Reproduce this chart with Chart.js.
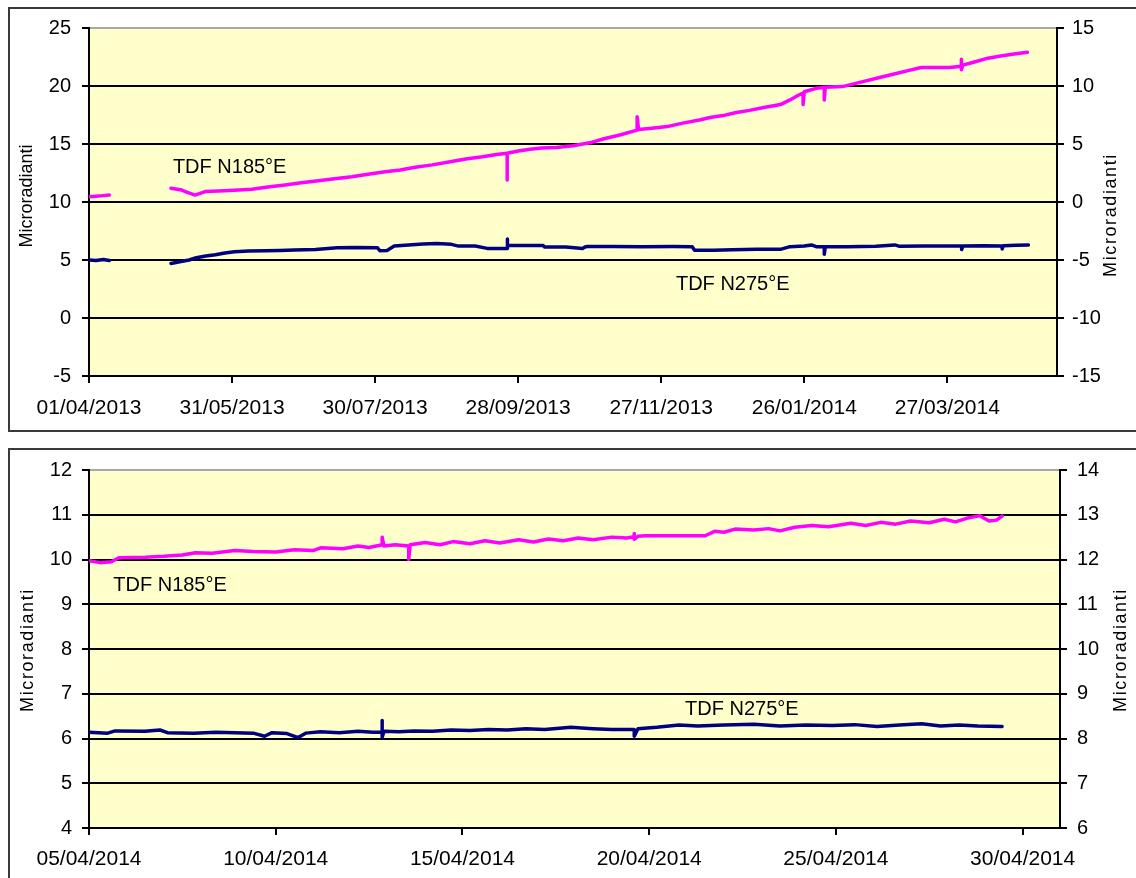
<!DOCTYPE html>
<html>
<head>
<meta charset="utf-8">
<title>TDF N185°E / N275°E</title>
<script src="https://cdn.jsdelivr.net/npm/chart.js@4.4.1/dist/chart.umd.min.js"></script>
<style>
  html, body { margin: 0; padding: 0; background: #fff; }
  body { position: relative; width: 1136px; height: 878px; overflow: hidden; }
  .frame { position: absolute; left: 8px; width: 1150px; border: 2px solid #3a3a3a; box-sizing: border-box; }
  canvas { position: absolute; left: 0; }
</style>
</head>
<body>
<div class="frame" style="top:7px;height:425px"></div>
<div class="frame" style="top:448px;height:470px"></div>
<canvas id="chartTop" width="1136" height="432" style="top:0"></canvas>
<canvas id="chartBottom" width="1136" height="446" style="top:432px"></canvas>
<script>
// =======================================
// Data – days counted from the first tick
// =======================================

// top chart: 01/04/2013 -> May 2014
const topTickDays = [0, 60, 120, 180, 240, 300, 360];
const topTickLabels = ["01/04/2013", "31/05/2013", "30/07/2013", "28/09/2013", "27/11/2013", "26/01/2014", "27/03/2014"];

const topPinkDays = [0, 3, 6, 8.5, 20, 34.4, 38.9, 41, 44.5, 48.7, 57, 68.3, 75, 82.2, 89, 96.2, 103, 110.2, 117, 124.2,
  130.5, 136.8, 144, 151.5, 158, 165, 171, 175.4, 175.4, 175.4, 180, 185, 190, 196, 203, 210, 216, 223, 229.9, 229.9,
  230.5, 236, 242.5, 249, 256, 261, 266, 271, 277, 283, 290, 294, 297.5, 299.5, 299.5, 300, 305, 308.4, 308.4, 308.8,
  316, 325, 332, 339, 344, 349, 355, 361, 365.9, 365.9, 365.9, 366.5, 371, 377, 383, 388, 393.6];
const topPinkVals = [10.45, 10.5, 10.55, 10.6, null, 11.18, 11.03, 10.85, 10.6, 10.9, 10.98, 11.1, 11.3, 11.47, 11.65, 11.84, 12.0, 12.18, 12.4, 12.6,
  12.76, 12.99, 13.2, 13.47, 13.7, 13.9, 14.1, 14.2, 11.9, 14.2, 14.4, 14.54, 14.65, 14.7, 14.85, 15.1, 15.45, 15.8, 16.2, 17.35,
  16.25, 16.35, 16.5, 16.8, 17.07, 17.3, 17.45, 17.7, 17.9, 18.15, 18.4, 18.8, 19.2, 19.4, 18.4, 19.5, 19.8, 19.9, 18.8, 19.9,
  19.95, 20.4, 20.75, 21.1, 21.35, 21.6, 21.6, 21.6, 21.7, 22.3, 21.4, 21.8, 22.05, 22.4, 22.6, 22.75, 22.9];

const topBlueDays = [0, 3, 6, 8.5, 20, 34.4, 38, 42, 45, 49, 53, 57, 61, 67, 74, 80, 86, 95, 104, 112,
  121, 122, 125, 128, 134, 140, 146, 152, 155, 162, 167, 175.4, 175.4, 175.6, 183, 190.5, 191, 200, 207, 208,
  209, 220, 232, 245, 253, 254, 262, 270, 280, 290, 294, 300, 303, 305, 308.4, 308.4, 308.8, 318, 330, 338,
  340, 350, 360, 366, 366, 366.5, 375, 383, 383, 383.5, 389, 394];
const topBlueVals = [5.0, 4.95, 5.05, 4.95, null, 4.7, 4.85, 5.0, 5.2, 5.35, 5.45, 5.6, 5.72, 5.78, 5.8, 5.82, 5.86, 5.9, 6.06, 6.08,
  6.05, 5.8, 5.82, 6.2, 6.3, 6.38, 6.42, 6.35, 6.2, 6.2, 6.0, 6.0, 6.8, 6.26, 6.26, 6.25, 6.12, 6.12, 6.0, 6.12,
  6.17, 6.17, 6.15, 6.17, 6.15, 5.85, 5.85, 5.88, 5.92, 5.92, 6.15, 6.2, 6.3, 6.15, 6.15, 5.5, 6.15, 6.15, 6.18, 6.3,
  6.18, 6.2, 6.2, 6.2, 5.9, 6.2, 6.22, 6.2, 5.95, 6.22, 6.28, 6.3];

// bottom chart: 05/04/2014 -> 01/05/2014
const botTickDays = [0, 5, 10, 15, 20, 25];
const botTickLabels = ["05/04/2014", "10/04/2014", "15/04/2014", "20/04/2014", "25/04/2014", "30/04/2014"];

const botPinkDays = [0, 0.3, 0.6, 0.8, 1.5, 2.0, 2.5, 2.85, 3.3, 3.9, 4.4, 5.0, 5.5, 6.0, 6.2, 6.8, 7.2, 7.5, 7.85, 7.85,
  7.9, 8.2, 8.56, 8.56, 8.6, 9.0, 9.4, 9.75, 10.2, 10.6, 11.0, 11.5, 11.9, 12.3, 12.7, 13.1, 13.5, 14.0, 14.4, 14.6,
  14.6, 14.6, 14.7, 14.9, 16.5, 16.75, 17.0, 17.3, 17.8, 18.2, 18.5, 18.9, 19.35, 19.8, 20.4, 20.8, 21.2, 21.6, 22.0, 22.5,
  22.9, 23.2, 23.5, 23.85, 24.1, 24.3, 24.45];
const botPinkVals = [9.97, 9.93, 9.95, 10.04, 10.05, 10.07, 10.1, 10.15, 10.14, 10.2, 10.18, 10.17, 10.22, 10.2, 10.26, 10.24, 10.3, 10.27, 10.33, 10.5,
  10.3, 10.33, 10.3, 10.0, 10.33, 10.38, 10.33, 10.4, 10.35, 10.42, 10.37, 10.44, 10.39, 10.46, 10.42, 10.48, 10.44, 10.5, 10.48, 10.51,
  10.58, 10.45, 10.52, 10.53, 10.53, 10.63, 10.61, 10.68, 10.66, 10.69, 10.64, 10.72, 10.76, 10.73, 10.81, 10.76, 10.83, 10.79, 10.86, 10.82,
  10.9, 10.84, 10.92, 10.98, 10.86, 10.88, 10.97];

const botBlueDays = [0, 0.5, 0.7, 1.5, 1.9, 2.1, 2.8, 3.4, 3.9, 4.4, 4.7, 4.9, 5.3, 5.6, 5.8, 6.2, 6.7, 7.2, 7.6, 7.85,
  7.85, 7.85, 7.9, 8.3, 8.7, 9.2, 9.7, 10.2, 10.7, 11.2, 11.7, 12.2, 12.9, 13.5, 14.0, 14.6, 14.6, 14.7, 15.2, 15.8,
  16.3, 17.0, 17.8, 18.5, 19.2, 19.9, 20.5, 21.1, 21.7, 22.3, 22.8, 23.3, 23.8, 24.45];
const botBlueVals = [6.14, 6.12, 6.17, 6.16, 6.19, 6.13, 6.12, 6.14, 6.13, 6.12, 6.05, 6.13, 6.11, 6.02, 6.12, 6.15, 6.13, 6.16, 6.14, 6.14,
  6.4, 6.03, 6.16, 6.15, 6.17, 6.16, 6.19, 6.18, 6.2, 6.19, 6.22, 6.2, 6.25, 6.22, 6.2, 6.2, 6.05, 6.22, 6.25, 6.3,
  6.28, 6.3, 6.32, 6.28, 6.3, 6.29, 6.31, 6.27, 6.3, 6.33, 6.28, 6.3, 6.28, 6.27];

const PINK = "#ff00ff";
const NAVY = "#000080";

Chart.defaults.font.family = "'Liberation Sans', Arial, sans-serif";
Chart.defaults.color = "#000";

// ===========================
// Helpers
// ===========================
function serie(days, vals, color) {
  return {
    data: days.map((d, i) => ({ x: d, y: vals[i] })),
    borderColor: color,
    borderWidth: 3.5,
    borderJoinStyle: "round",
    borderCapStyle: "round",
    pointRadius: 0,
    tension: 0,
    spanGaps: false,
    yAxisID: "y"
  };
}

function asseX(max, tickDays, tickLabels, height, pad) {
  return {
    type: "linear",
    min: 0,
    max: max,
    afterBuildTicks: s => { s.ticks = tickDays.map(v => ({ value: v })); },
    afterFit: s => { s.height = height; },
    grid: { drawOnChartArea: false, color: "#000", lineWidth: 2, tickLength: 7 },
    border: { color: "#000", width: 2 },
    ticks: {
      autoSkip: false, maxRotation: 0, padding: pad,
      font: { size: 21 },
      callback: (v, i) => tickLabels[i]
    }
  };
}

function asseY(pos, min, max, step, width, pad) {
  return {
    position: pos,
    min: min,
    max: max,
    afterFit: s => { s.width = width; },
    ticks: { stepSize: step, padding: pad, font: { size: 20 } },
    grid: {
      drawOnChartArea: pos === "left",
      tickLength: 7,
      lineWidth: 2,
      tickColor: "#000",
      color: c => (c.tick && c.tick.value === max) ? "#a8a8a8" : "#000"
    },
    border: { color: "#000", width: 2 }
  };
}

// sfondo giallo + titoli assi + etichette serie
const decorazioni = {
  id: "decorazioni",
  beforeDraw(chart) {
    const { ctx, chartArea: a } = chart;
    ctx.save();
    ctx.fillStyle = "#ffffcc";
    ctx.fillRect(a.left, a.top, a.right - a.left, a.bottom - a.top);
    ctx.restore();
  },
  afterDraw(chart, args, opts) {
    const { ctx, scales } = chart;
    ctx.save();
    ctx.fillStyle = "#000";
    ctx.textAlign = "center";
    ctx.textBaseline = "middle";
    opts.titoli.forEach(t => {
      ctx.save();
      ctx.font = "18px 'Liberation Sans', Arial, sans-serif";
      ctx.letterSpacing = t.spazio + "px";
      ctx.translate(t.x, t.y);
      ctx.rotate(-Math.PI / 2);
      ctx.fillText("Microradianti", 0, 0);
      ctx.restore();
    });
    ctx.font = "20px 'Liberation Sans', Arial, sans-serif";
    opts.etichette.forEach(e => {
      ctx.fillText(e.testo, scales.x.getPixelForValue(e.giorno), scales.y.getPixelForValue(e.valore));
    });
    ctx.restore();
  }
};

// ===========================
// Grafico 1 – anno intero
// ===========================
new Chart(document.getElementById("chartTop"), {
  type: "line",
  data: {
    datasets: [
      serie(topBlueDays, topBlueVals, NAVY),
      serie(topPinkDays, topPinkVals, PINK)
    ]
  },
  options: {
    responsive: false,
    animation: false,
    layout: { padding: { top: 28, left: 0, right: 0, bottom: 0 } },
    plugins: {
      legend: { display: false },
      tooltip: { enabled: false },
      decorazioni: {
        titoli: [{ x: 27, y: 196, spazio: 0 }, { x: 1111, y: 215, spazio: 1.6 }],
        etichette: [
          { testo: "TDF N185°E", giorno: 59, valore: 13.0 },
          { testo: "TDF N275°E", giorno: 270, valore: 2.85 }
        ]
      }
    },
    scales: {
      x: asseX(406, topTickDays, topTickLabels, 56, 13),
      y: asseY("left", -5, 25, 5, 89, 11),
      y2: asseY("right", -15, 15, 5, 79, 8)
    }
  },
  plugins: [decorazioni]
});

// ===========================
// Grafico 2 – aprile 2014
// ===========================
new Chart(document.getElementById("chartBottom"), {
  type: "line",
  data: {
    datasets: [
      serie(botBlueDays, botBlueVals, NAVY),
      serie(botPinkDays, botPinkVals, PINK)
    ]
  },
  options: {
    responsive: false,
    animation: false,
    layout: { padding: { top: 38, left: 0, right: 0, bottom: 0 } },
    plugins: {
      legend: { display: false },
      tooltip: { enabled: false },
      decorazioni: {
        titoli: [{ x: 28, y: 218, spazio: 1.6 }, { x: 1121, y: 218, spazio: 1.6 }],
        etichette: [
          { testo: "TDF N185°E", giorno: 2.17, valore: 9.43 },
          { testo: "TDF N275°E", giorno: 17.48, valore: 6.64 }
        ]
      }
    },
    scales: {
      x: asseX(26, botTickDays, botTickLabels, 50, 12),
      y: asseY("left", 4, 12, 1, 89, 10),
      y2: asseY("right", 6, 14, 1, 76, 10)
    }
  },
  plugins: [decorazioni]
});
</script>
</body>
</html>
